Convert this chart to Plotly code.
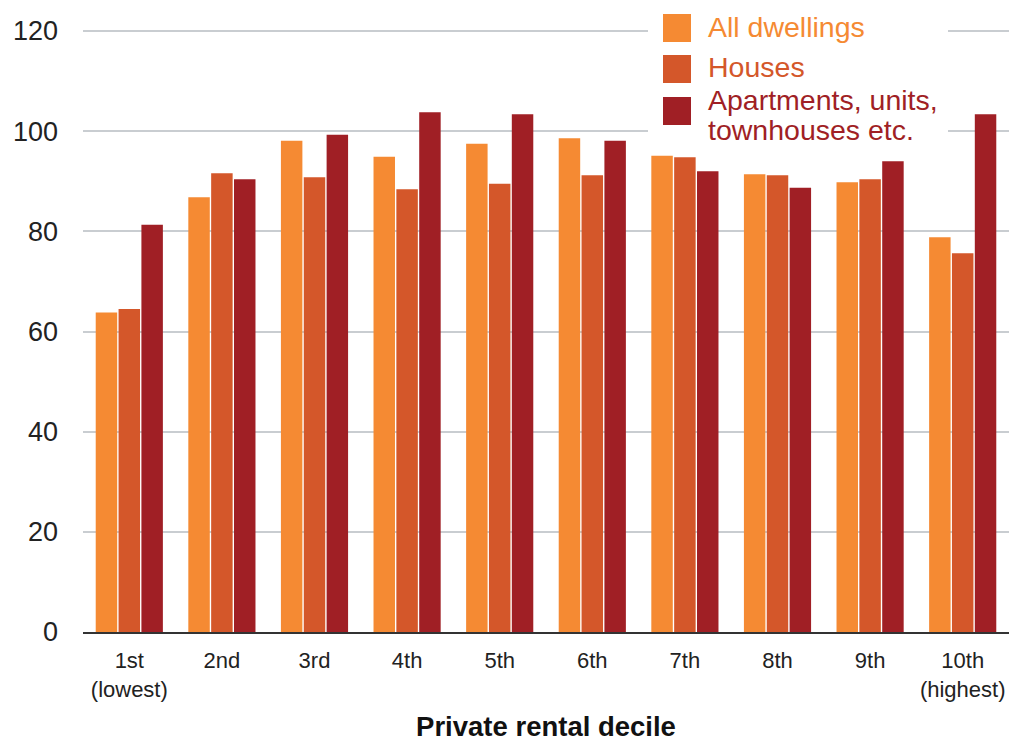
import plotly.graph_objects as go

# Private rental deciles and the three dwelling-type series
deciles = ["1st<br>(lowest)", "2nd", "3rd", "4th", "5th", "6th", "7th", "8th", "9th", "10th<br>(highest)"]
all_dwellings = [63.8, 86.8, 98.1, 94.9, 97.5, 98.6, 95.1, 91.4, 89.8, 78.8]
houses = [64.5, 91.6, 90.8, 88.4, 89.5, 91.2, 94.8, 91.2, 90.4, 75.6]
apartments = [81.3, 90.4, 99.3, 103.8, 103.4, 98.1, 92.0, 88.7, 94.0, 103.4]

series_names = ["All dwellings", "Houses", "Apartments, units,<br>townhouses etc."]
series_colors = ["#F58A33", "#D4572A", "#A01F25"]
y_ticks = [0, 20, 40, 60, 80, 100, 120]

W, H = 1011, 742
L, R, T, B = 83, 2, 29, 110
Y_MAX = 120.4
FONT = "Liberation Sans, Arial, sans-serif"


def px_x(px):
    return (px - L) / (W - L - R)


def px_y(py):
    return (H - B - py) / (H - B - T)


fig = go.Figure()
for name, vals, color in zip(series_names, [all_dwellings, houses, apartments], series_colors):
    fig.add_trace(go.Bar(x=deciles, y=vals, name=name, marker_color=color,
                         marker_line_width=0, showlegend=False))

# Hand-built legend: white panel over the gridlines, big square swatches, coloured labels
shapes = [dict(type="rect", xref="paper", yref="paper", layer="above",
               x0=px_x(648), x1=px_x(948), y0=px_y(150), y1=px_y(0),
               fillcolor="white", line_width=0)]
annotations = []
swatch_tops = [14, 55, 97]
label_lines = [[(27, "All dwellings")], [(67, "Houses")],
               [(100, "Apartments, units,"), (130, "townhouses etc.")]]
for top, lines, color in zip(swatch_tops, label_lines, series_colors):
    shapes.append(dict(type="rect", xref="paper", yref="paper", layer="above",
                       x0=px_x(663), x1=px_x(691), y0=px_y(top + 28), y1=px_y(top),
                       fillcolor=color, line_width=0))
    for mid, text in lines:
        annotations.append(dict(xref="paper", yref="paper", x=px_x(706), y=px_y(mid),
                                xanchor="left", yanchor="middle", align="left",
                                text=text, showarrow=False,
                                font=dict(family=FONT, size=28.5, color=color)))

fig.update_layout(
    width=W, height=H,
    margin=dict(l=L, r=R, t=T, b=B),
    paper_bgcolor="white", plot_bgcolor="white",
    barmode="group", bargap=0.26, bargroupgap=0.06,
    shapes=shapes, annotations=annotations,
    font=dict(family=FONT, color="#222222"),
)
fig.update_xaxes(
    showgrid=False, showline=True, linecolor="#333333", linewidth=2,
    ticks="", ticklabelstandoff=8, tickfont=dict(size=22, color="#222222"),
    title=dict(text="<b>Private rental decile</b>", font=dict(size=27.5, color="#111111"), standoff=19),
)
fig.update_yaxes(
    range=[0, Y_MAX], tickvals=y_ticks, showgrid=True, gridcolor="#C9CDD1", gridwidth=2,
    zeroline=False, showline=False, ticks="", ticklabelstandoff=24,
    tickfont=dict(size=27, color="#222222"),
)

fig.write_html("out.html")
